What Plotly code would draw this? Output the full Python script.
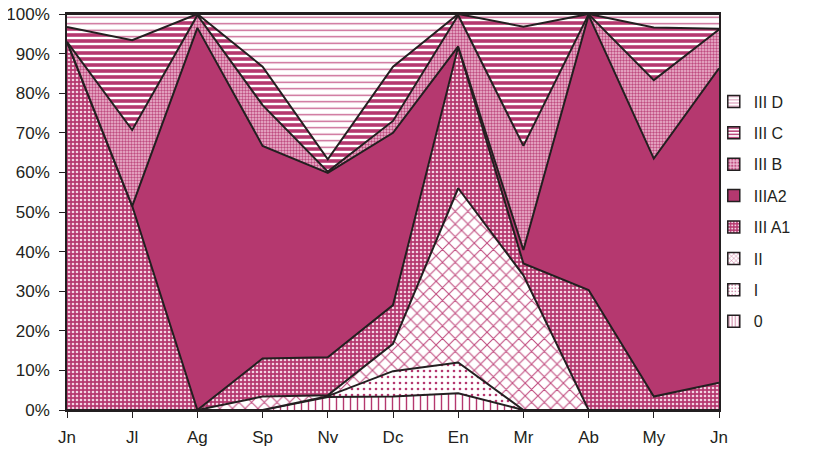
import plotly.graph_objects as go

months = ["Jn", "Jl", "Ag", "Sp", "Nv", "Dc", "En", "Mr", "Ab", "My", "Jn"]
x_idx = list(range(len(months)))
y_ticks = list(range(0, 101, 10))
y_tick_text = [f"{v}%" for v in y_ticks]

s_0 = [0, 0, 0, 0, 3.3, 3.4, 4.2, 0, 0, 0, 0]
s_I = [0, 0, 0, 0, 0.2, 6.4, 7.8, 0, 0, 0, 0]
s_II = [0, 0, 0, 3.4, 0.2, 6.9, 44, 34, 0, 0, 0]
s_IIIA1 = [93, 51.5, 0, 9.6, 9.6, 9.8, 35.7, 3, 30.3, 3.4, 6.9]
s_IIIA2 = [0, 0, 96.5, 53.7, 46.6, 43.5, 0.1, 3.4, 69.4, 60.1, 79.4]
s_IIIB = [0, 19.2, 3.2, 10.3, 0.3, 3, 7.9, 26.3, 0.2, 19.8, 9.8]
s_IIIC = [3.7, 22.7, 0.3, 9.7, 3.1, 13.7, 0.3, 30.1, 0.1, 13.3, 0.2]
s_IIID = [3.3, 6.6, 0, 13.3, 36.7, 13.3, 0, 3.2, 0, 3.4, 3.7]

names = ["0", "I", "II", "III A1", "IIIA2", "III B", "III C", "III D"]
series = [s_0, s_I, s_II, s_IIIA1, s_IIIA2, s_IIIB, s_IIIC, s_IIID]

PINK = "#b5386f"
LINE = "#231f20"
patterns = [
    dict(shape="|", fgcolor=PINK, bgcolor="white", size=7, solidity=0.2),
    dict(shape=".", fgcolor=PINK, bgcolor="white", size=6, solidity=0.15),
    dict(shape="x", fgcolor="#c04a7e", bgcolor="white", size=9, solidity=0.22),
    dict(shape=".", fgcolor="#f3d3e2", bgcolor=PINK, size=4, solidity=0.35),
    dict(shape="", fgcolor=PINK, bgcolor=PINK, size=4, solidity=1),
    dict(shape=".", fgcolor="#bf4c80", bgcolor="#eebad2", size=3, solidity=0.5),
    dict(shape="-", fgcolor=PINK, bgcolor="white", size=6, solidity=0.6),
    dict(shape="-", fgcolor="#c65a8b", bgcolor="white", size=6.5, solidity=0.2),
]

fig = go.Figure()
for name, vals, pat in zip(names, series, patterns):
    solid = pat["shape"] == ""
    fig.add_trace(go.Scatter(
        x=x_idx, y=vals, name=name, mode="lines",
        stackgroup="one", groupnorm="percent",
        line=dict(color=LINE, width=2),
        fillcolor=PINK if solid else "white",
        fillpattern=None if solid else dict(pat, fgopacity=1),
        showlegend=False, hoverinfo="skip",
    ))

# legend entries (square swatches), III D first
for rank, (name, pat) in enumerate(reversed(list(zip(names, patterns)))):
    solid = pat["shape"] == ""
    mk = dict(color=PINK if solid else "white", line=dict(color=LINE, width=1.5))
    if not solid:
        mk["pattern"] = dict(shape=pat["shape"], fgcolor=pat["fgcolor"],
                             bgcolor=pat["bgcolor"], size=4, fgopacity=1,
                             solidity=min(pat["solidity"], 0.45))
    fig.add_trace(go.Bar(x=[None], y=[None], name=name, marker=mk,
                         legendgroup=name, legendrank=rank + 1, showlegend=True))

fig.update_layout(
    width=822, height=442,
    margin=dict(l=59, r=111, t=6, b=40, autoexpand=False),
    paper_bgcolor="white", plot_bgcolor="white",
    font=dict(family="Liberation Sans, Arial, sans-serif", size=17, color=LINE),
    legend=dict(x=0.992, xanchor="left", y=0.822, yanchor="top",
                traceorder="grouped", tracegroupgap=7.6,
                font=dict(size=16), bgcolor="rgba(0,0,0,0)"),
    showlegend=True,
)
fig.update_xaxes(
    range=[0, 10], tickmode="array", tickvals=x_idx, ticktext=months,
    showgrid=False, zeroline=False, showline=True, linecolor=LINE, linewidth=1.5,
    mirror=True, ticks="outside", ticklen=6, tickcolor=LINE,
    ticklabelstandoff=5, ticklabeloverflow="allow", automargin=False,
)
fig.update_yaxes(
    range=[0, 100], tickmode="array", tickvals=y_ticks, ticktext=y_tick_text,
    showgrid=False, zeroline=False, showline=True, linecolor=LINE, linewidth=1.5,
    mirror=True, ticks="outside", ticklen=6, tickcolor=LINE,
    ticklabelstandoff=6, ticklabeloverflow="allow", automargin=False,
)

fig.write_html("out.html")
